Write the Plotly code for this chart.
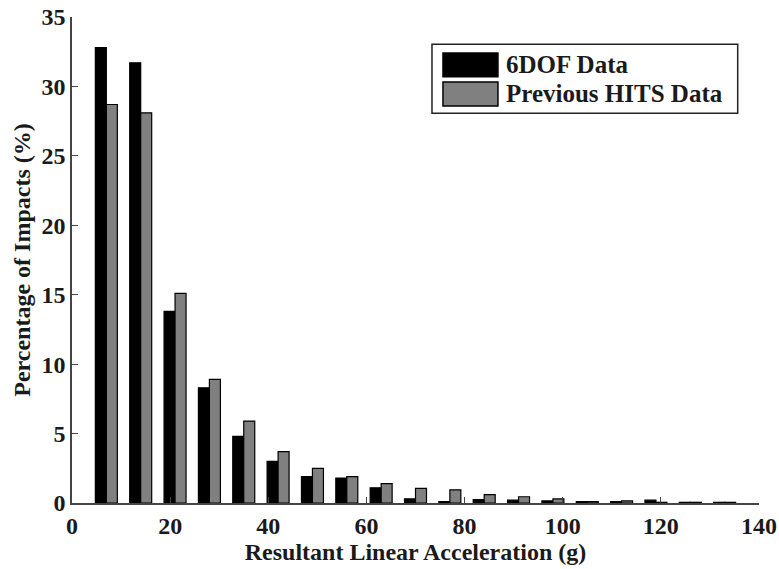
import plotly.graph_objects as go

bin_centers = [7, 14, 21, 28, 35, 42, 49, 56, 63, 70, 77, 84, 91, 98, 105, 112, 119, 126, 133]
dof6 = [32.8, 31.7, 13.8, 8.3, 4.8, 3.0, 1.9, 1.8, 1.1, 0.3, 0.1, 0.25, 0.2, 0.15, 0.1, 0.1, 0.2, 0.05, 0.05]
hits = [28.7, 28.1, 15.1, 8.9, 5.9, 3.7, 2.5, 1.9, 1.4, 1.05, 0.95, 0.6, 0.45, 0.3, 0.1, 0.15, 0.05, 0.05, 0.05]
series_names = ["6DOF Data", "Previous HITS Data"]
series_colors = ["black", "#808080"]

x_ticks = [0, 20, 40, 60, 80, 100, 120, 140]
y_ticks = [0, 5, 10, 15, 20, 25, 30, 35]

FONT = "Liberation Serif"
TXT = "#1a1a1a"

fig = go.Figure()
for vals, nm, col in zip([dof6, hits], series_names, series_colors):
    fig.add_trace(go.Bar(x=bin_centers, y=vals, name=nm, showlegend=False,
                         marker=dict(color=col, line=dict(color="black", width=1.2))))

# custom legend (wide patches like the original)
fig.add_shape(type="rect", xref="paper", yref="paper", x0=0.524, x1=0.969, y0=0.802, y1=0.944,
              line=dict(color="#222", width=1.5), fillcolor="white", layer="above")
patch_y = [(0.877, 0.926), (0.817, 0.866)]
text_y = [0.902, 0.842]
for (y0, y1), ty, nm, col in zip(patch_y, text_y, series_names, series_colors):
    fig.add_shape(type="rect", xref="paper", yref="paper", x0=0.540, x1=0.620, y0=y0, y1=y1,
                  line=dict(color="black", width=1.5), fillcolor=col, layer="above")
    fig.add_annotation(xref="paper", yref="paper", x=0.629, y=ty, xanchor="left", yanchor="middle",
                       text=f"<b>{nm}</b>", showarrow=False,
                       font=dict(family=FONT, size=25, color=TXT))

fig.update_layout(
    width=779, height=569,
    margin=dict(l=72, r=20, t=17, b=66),
    plot_bgcolor="white", paper_bgcolor="white",
    barmode="group", bargap=0.36, bargroupgap=0,
    font=dict(family=FONT, size=24, color=TXT),
    showlegend=False,
    xaxis=dict(range=[0, 140], tickvals=x_ticks, ticktext=[f"<b>{v}</b>" for v in x_ticks],
               ticks="inside", ticklen=6, tickcolor="#444", automargin=False,
               tickfont=dict(family=FONT, size=24, color=TXT),
               showline=True, linecolor="#444", linewidth=1.5, showgrid=False, zeroline=False,
               title=dict(text="<b>Resultant Linear Acceleration (g)</b>", standoff=2,
                          font=dict(family=FONT, size=24, color=TXT))),
    yaxis=dict(range=[0, 35], tickvals=y_ticks, ticktext=[f"<b>{v}</b>" for v in y_ticks],
               ticks="inside", ticklen=6, tickcolor="#444", automargin=False,
               tickfont=dict(family=FONT, size=24, color=TXT),
               showline=True, linecolor="#444", linewidth=1.5, showgrid=False, zeroline=False,
               title=dict(text="<b>Percentage of Impacts (%)</b>", standoff=4,
                          font=dict(family=FONT, size=24, color=TXT))),
)

fig.write_html("out.html")
